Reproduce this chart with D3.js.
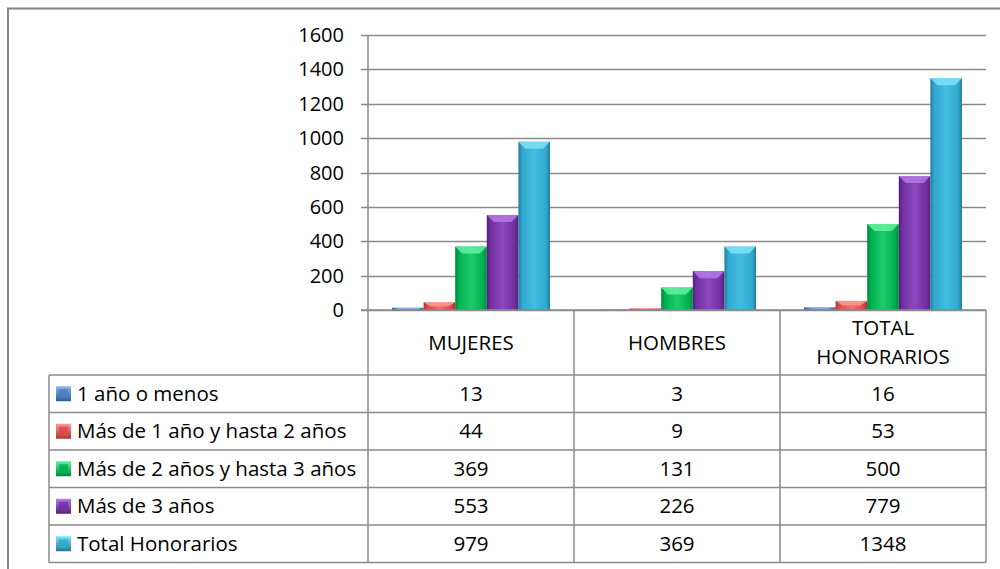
<!DOCTYPE html>
<html><head><meta charset="utf-8">
<script src="https://cdn.jsdelivr.net/npm/d3@7"></script>
<style>
html,body{margin:0;padding:0;background:#fff;}
svg text{font-family:"Open Sans","Liberation Sans",sans-serif;fill:#000;}
</style></head>
<body><svg id="c" width="1000" height="569"></svg>
<script>
const categories = ["MUJERES", "HOMBRES", "TOTAL HONORARIOS"];
const categoryLines = [["MUJERES"], ["HOMBRES"], ["TOTAL", "HONORARIOS"]];
const seriesNames = ["1 año o menos", "Más de 1 año y hasta 2 años", "Más de 2 años y hasta 3 años", "Más de 3 años", "Total Honorarios"];
const s1 = [13, 3, 16];
const s2 = [44, 9, 53];
const s3 = [369, 131, 500];
const s4 = [553, 226, 779];
const s5 = [979, 369, 1348];
const seriesValues = [s1, s2, s3, s4, s5];
const yTicks = [0, 200, 400, 600, 800, 1000, 1200, 1400, 1600];
const colors = [
  {base:"#4a7ebf", light:"#6d9fe0", dark:"#2f5f99", top:"#8cb8f0"},
  {base:"#dc4a45", light:"#f07070", dark:"#a83530", top:"#ff9a96"},
  {base:"#00b050", light:"#1fcc6a", dark:"#00873c", top:"#66f0a0"},
  {base:"#7030a0", light:"#8c48bf", dark:"#55207c", top:"#b47ae6"},
  {base:"#31a8cf", light:"#42bde2", dark:"#237a98", top:"#7fe2fa"}
];
const FS = 20.5;

const svg = d3.select("#c");
const plotL = 368, plotR = 986, y0 = 310, yTop = 35;
const tableBottom = 562.5;
const rowH = 37.5;
const headerBottom = 375;
const legendL = 49;

const x = d3.scaleBand().domain(categories).range([plotL, plotR]).padding(0);
const xs = d3.scaleBand().domain(d3.range(5)).range([0, x.bandwidth()]).paddingInner(0).paddingOuter(0.76);
const y = d3.scaleLinear().domain([0, 1600]).range([y0, yTop]);

const defs = svg.append("defs");
colors.forEach((c, i) => {
  const g = defs.append("linearGradient").attr("id", "g" + i).attr("x1", 0).attr("x2", 1).attr("y1", 0).attr("y2", 0);
  g.append("stop").attr("offset", "0%").attr("stop-color", c.dark);
  g.append("stop").attr("offset", "12%").attr("stop-color", c.base);
  g.append("stop").attr("offset", "50%").attr("stop-color", c.light);
  g.append("stop").attr("offset", "88%").attr("stop-color", c.base);
  g.append("stop").attr("offset", "100%").attr("stop-color", c.dark);
  const k = defs.append("linearGradient").attr("id", "k" + i).attr("x1", 0).attr("x2", 0).attr("y1", 0).attr("y2", 1);
  k.append("stop").attr("offset", "0%").attr("stop-color", c.top);
  k.append("stop").attr("offset", "100%").attr("stop-color", c.dark);
});

svg.append("rect").attr("x", 8).attr("y", 8.5).attr("width", 1010).attr("height", 600)
  .attr("fill", "none").attr("stroke", "#868686").attr("stroke-width", 2);

const grid = svg.append("g");
grid.selectAll("line").data(yTicks).join("line")
  .attr("x1", plotL - 7).attr("x2", plotR)
  .attr("y1", d => Math.round(y(d)) + 0.5).attr("y2", d => Math.round(y(d)) + 0.5)
  .attr("stroke", "#8a8a8a").attr("stroke-width", 1.5);

svg.append("g").selectAll("text").data(yTicks).join("text")
  .attr("x", 344).attr("y", d => y(d)).attr("dy", "0.35em")
  .attr("text-anchor", "end").attr("font-size", 20).text(d => d);

const barG = svg.append("g");
seriesValues.forEach((vals, si) => {
  const c = colors[si];
  const g = barG.append("g");
  const data = vals.map((v, ci) => ({v, cat: categories[ci]}));
  g.selectAll("rect").data(data).join("rect")
    .attr("x", d => x(d.cat) + xs(si)).attr("width", xs.bandwidth())
    .attr("y", d => y(d.v)).attr("height", d => y0 - y(d.v))
    .attr("fill", "url(#g" + si + ")");
  g.selectAll("path").data(data).join("path")
    .attr("d", d => {
      const bx = x(d.cat) + xs(si), bw = xs.bandwidth(), by = y(d.v);
      const h = Math.min(7, (y0 - by) / 2);
      const inset = Math.min(7, bw / 4);
      return `M${bx},${by}L${bx + bw},${by}L${bx + bw - inset},${by + h}L${bx + inset},${by + h}Z`;
    })
    .attr("fill", c.top).attr("opacity", 0.85);
});

const tl = svg.append("g").attr("stroke", "#8a8a8a").attr("stroke-width", 1.5).attr("fill", "none");
tl.append("line").attr("x1", plotL - 7).attr("x2", plotR).attr("y1", y0).attr("y2", y0);
const rowYs = d3.range(6).map(i => headerBottom + i * rowH);
tl.selectAll("line.row").data(rowYs).join("line").attr("class", "row")
  .attr("x1", legendL).attr("x2", plotR).attr("y1", d => d).attr("y2", d => d);
tl.append("line").attr("x1", plotL).attr("x2", plotL).attr("y1", yTop).attr("y2", tableBottom);
categories.forEach(cat => {
  tl.append("line").attr("x1", x(cat) + x.bandwidth()).attr("x2", x(cat) + x.bandwidth()).attr("y1", y0).attr("y2", tableBottom);
});
tl.append("line").attr("x1", legendL).attr("x2", legendL).attr("y1", headerBottom).attr("y2", tableBottom);

categories.forEach((cat, ci) => {
  const lines = categoryLines[ci];
  const cx = x(cat) + x.bandwidth() / 2;
  const cy = (y0 + headerBottom) / 2;
  lines.forEach((ln, li) => {
    svg.append("text").attr("x", cx).attr("y", cy + (li - (lines.length - 1) / 2) * 29)
      .attr("dy", "0.35em").attr("text-anchor", "middle").attr("font-size", FS).text(ln);
  });
});

seriesNames.forEach((name, si) => {
  const cy = headerBottom + si * rowH + rowH / 2;
  svg.append("rect").attr("x", 56).attr("y", cy - 7.5).attr("width", 15).attr("height", 15)
    .attr("fill", "url(#k" + si + ")");
  svg.append("rect").attr("x", 59).attr("y", cy - 4.5).attr("width", 9).attr("height", 9)
    .attr("fill", colors[si].base).attr("opacity", 0.8);
  svg.append("text").attr("x", 77).attr("y", cy).attr("dy", "0.35em").attr("font-size", FS).text(name);
  seriesValues[si].forEach((v, ci) => {
    svg.append("text").attr("x", x(categories[ci]) + x.bandwidth() / 2).attr("y", cy)
      .attr("dy", "0.35em").attr("text-anchor", "middle").attr("font-size", FS).text(v);
  });
});
</script></body></html>
